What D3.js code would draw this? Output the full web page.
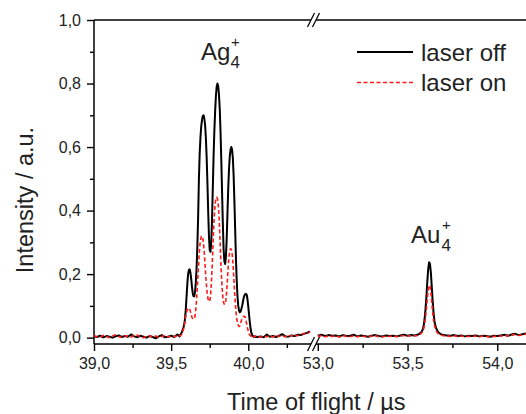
<!DOCTYPE html>
<html><head><meta charset="utf-8">
<script src="https://cdn.jsdelivr.net/npm/d3@7"></script>
<style>
body{margin:0;background:#fff}
svg{display:block}
text{font-family:"Liberation Sans",Arial,Helvetica,sans-serif}
</style>
</head><body>
<svg id="c" width="526" height="414"></svg>
<script>
// ---------------- DATA ----------------
const seriesNames = ["laser off", "laser on"];
const yTicks = [0.0, 0.2, 0.4, 0.6, 0.8, 1.0];
const yMinorTicks = [0.1, 0.3, 0.5, 0.7, 0.9];
const xTicksLeft = [39.0, 39.5, 40.0];
const xMinorLeft = [39.25, 39.75, 40.25];
const xTicksRight = [53.0, 53.5, 54.0];
const xMinorRight = [53.25, 53.75];
const peakLabels = ["Ag", "Au"];

// left segment (Ag4+), time in µs
const timeLeft = [
 39.00,39.02,39.04,39.06,39.08,39.10,39.12,39.14,39.16,39.18,
 39.20,39.22,39.24,39.26,39.28,39.30,39.32,39.34,39.36,39.38,
 39.40,39.42,39.44,39.46,39.48,39.50,39.52,39.54,
 39.550,39.555,39.560,39.565,39.570,39.575,39.580,39.585,39.590,39.595,
 39.600,39.605,39.610,39.615,39.620,39.625,39.630,39.635,39.640,39.645,
 39.650,39.655,39.660,39.665,39.670,39.675,39.680,39.685,39.690,39.695,
 39.700,39.705,39.710,39.715,39.720,39.725,39.730,39.735,39.740,39.745,
 39.750,39.755,39.760,39.765,39.770,39.775,39.780,39.785,39.790,39.795,
 39.800,39.805,39.810,39.815,39.820,39.825,39.830,39.835,39.840,39.845,
 39.850,39.855,39.860,39.865,39.870,39.875,39.880,39.885,39.890,39.895,
 39.900,39.905,39.910,39.915,39.920,39.925,39.930,39.935,39.940,39.945,
 39.950,39.955,39.960,39.965,39.970,39.975,39.980,39.985,39.990,39.995,
 40.000,40.005,40.010,40.015,40.020,40.025,40.030,40.035,40.040,40.045,
 40.050,
 40.06,40.08,40.10,40.12,40.14,40.16,40.18,40.20,40.22,40.24,
 40.26,40.28,40.30,40.32,40.34,40.36,40.38,40.40
];
const offLeft = [
 0.004,0.002,0.006,0.001,0.005,0.003,0.000,0.004,0.007,0.002,
 0.005,0.003,0.010,0.004,0.001,0.006,0.003,0.000,0.005,0.002,
 -0.002,0.004,0.008,0.001,0.003,0.006,0.002,0.010,
 0.006,0.004,0.010,0.012,0.018,0.025,0.032,0.042,0.060,0.090,
 0.130,0.170,0.200,0.213,0.215,0.205,0.185,0.160,0.140,0.130,
 0.130,0.145,0.175,0.220,0.290,0.380,0.500,0.580,0.630,0.665,
 0.685,0.698,0.700,0.690,0.670,0.630,0.570,0.490,0.400,0.320,
 0.275,0.270,0.300,0.370,0.470,0.570,0.650,0.710,0.760,0.790,
 0.800,0.792,0.765,0.720,0.650,0.560,0.460,0.360,0.280,0.240,
 0.232,0.255,0.310,0.390,0.470,0.530,0.570,0.592,0.600,0.592,
 0.565,0.510,0.430,0.340,0.250,0.180,0.130,0.100,0.085,0.080,
 0.082,0.090,0.100,0.112,0.125,0.133,0.137,0.138,0.135,0.120,
 0.098,0.072,0.048,0.028,0.015,0.008,0.005,0.003,0.004,0.002,
 0.003,
 0.002,0.004,0.001,0.010,0.003,0.005,0.002,0.006,0.011,0.004,
 0.003,0.007,0.005,0.009,0.008,0.012,0.015,0.020
];
const onLeft = [
 0.006,0.003,0.002,0.007,0.004,0.000,0.005,0.009,0.003,0.001,
 0.006,0.004,0.002,0.007,0.008,0.003,0.000,0.004,0.006,0.002,
 0.005,0.001,0.004,0.007,0.002,0.005,0.003,0.006,
 0.004,0.006,0.005,0.008,0.012,0.018,0.028,0.040,0.055,0.068,
 0.080,0.088,0.092,0.093,0.090,0.082,0.072,0.064,0.060,0.058,
 0.060,0.068,0.090,0.120,0.160,0.205,0.250,0.285,0.307,0.318,
 0.320,0.313,0.295,0.265,0.228,0.190,0.158,0.135,0.120,0.114,
 0.115,0.130,0.165,0.215,0.275,0.335,0.385,0.420,0.438,0.442,
 0.438,0.420,0.385,0.330,0.265,0.205,0.158,0.127,0.110,0.105,
 0.106,0.118,0.145,0.185,0.225,0.255,0.273,0.280,0.278,0.265,
 0.238,0.198,0.155,0.115,0.083,0.060,0.046,0.039,0.035,0.037,
 0.045,0.053,0.060,0.065,0.067,0.067,0.064,0.055,0.042,0.030,
 0.020,0.012,0.008,0.005,0.004,0.006,0.003,0.004,0.002,0.005,
 0.003,
 0.004,0.001,0.005,0.003,0.006,0.002,0.008,0.004,0.006,0.003,
 0.007,0.005,0.009,0.006,0.010,0.013,0.012,0.018
];

// right segment (Au4+)
const timeRight = [
 53.00,53.02,53.04,53.06,53.08,53.10,53.12,53.14,53.16,53.18,
 53.20,53.22,53.24,53.26,53.28,53.30,53.32,53.34,53.36,53.38,
 53.40,53.42,53.44,53.46,53.48,53.50,53.52,53.54,
 53.550,53.555,53.560,53.565,53.570,53.575,53.580,53.585,53.590,53.595,
 53.600,53.605,53.610,53.615,53.620,53.625,53.630,53.635,53.640,53.645,
 53.650,53.655,53.660,53.665,53.670,53.675,53.680,53.685,53.690,53.695,
 53.700,
 53.72,53.74,53.76,53.78,53.80,53.82,53.84,53.86,53.88,53.90,
 53.92,53.94,53.96,53.98,54.00,54.02,54.04,54.06,54.08,54.10,
 54.12,54.14,54.16
];
const offRight = [
 0.006,0.009,0.005,0.008,0.006,0.007,0.004,0.008,0.005,0.006,
 0.009,0.004,0.007,0.005,0.003,0.006,0.008,0.005,0.004,0.007,
 0.005,0.006,0.004,0.007,0.009,0.006,0.008,0.007,
 0.008,0.009,0.010,0.012,0.014,0.016,0.020,0.026,0.038,0.058,
 0.088,0.128,0.175,0.215,0.237,0.232,0.205,0.160,0.115,0.078,
 0.052,0.038,0.029,0.023,0.018,0.015,0.013,0.011,0.010,0.009,
 0.008,
 0.007,0.006,0.008,0.005,0.007,0.004,0.006,0.005,0.007,0.004,
 0.006,0.005,0.003,0.006,0.005,0.007,0.009,0.006,0.010,0.012,
 0.008,0.011,0.013
];
const onRight = [
 0.004,0.006,0.003,0.005,0.004,0.005,0.002,0.006,0.004,0.003,
 0.006,0.003,0.005,0.004,0.002,0.005,0.006,0.003,0.002,0.005,
 0.004,0.005,0.003,0.006,0.006,0.005,0.006,0.006,
 0.006,0.007,0.008,0.010,0.011,0.013,0.016,0.020,0.028,0.042,
 0.062,0.090,0.122,0.150,0.165,0.162,0.142,0.112,0.080,0.055,
 0.038,0.028,0.021,0.016,0.013,0.011,0.009,0.008,0.008,0.007,
 0.006,
 0.005,0.004,0.006,0.003,0.005,0.003,0.004,0.004,0.005,0.003,
 0.005,0.004,0.002,0.004,0.004,0.005,0.007,0.005,0.008,0.010,
 0.007,0.009,0.011
];

// ---------------- CHART ----------------
const svg = d3.select("#c");
const fmt = d => d3.format(".1f")(d).replace(".", ",");
const TXT = "#222";

const y  = d3.scaleLinear().domain([-0.02, 1.0]).range([344, 20]);
const xL = d3.scaleLinear().domain([39.0, 40.40]).range([94, 310]);
const xR = d3.scaleLinear().domain([52.99, 54.16]).range([316, 526]);

// y axis
const gy = svg.append("g").attr("transform", `translate(${xL.range()[0]},0)`);
gy.call(d3.axisLeft(y).tickValues(yTicks).tickSize(7).tickPadding(6).tickFormat(fmt));
gy.append("g").call(d3.axisLeft(y).tickValues(yMinorTicks).tickSize(4).tickFormat(""));
gy.selectAll(".domain").remove();
gy.selectAll("line").attr("stroke", "#000").attr("stroke-width", 1.4);
gy.selectAll("text").attr("font-size", 16).attr("fill", TXT);
gy.append("line").attr("x1", 0).attr("x2", 0).attr("y1", y.range()[1]).attr("y2", y.range()[0])
  .attr("stroke", "#000").attr("stroke-width", 1.5);

// x axes
function xAxis(scale, major, minor) {
  const g = svg.append("g").attr("transform", `translate(0,${y.range()[0]})`);
  g.call(d3.axisBottom(scale).tickValues(major).tickSize(7).tickPadding(7).tickFormat(fmt));
  g.append("g").call(d3.axisBottom(scale).tickValues(minor).tickSize(4).tickFormat(""));
  g.selectAll(".domain").remove();
  g.selectAll("line").attr("stroke", "#000").attr("stroke-width", 1.4);
  g.selectAll("text").attr("font-size", 16).attr("fill", TXT);
  return g;
}
xAxis(xL, xTicksLeft, xMinorLeft);
xAxis(xR, xTicksRight, xMinorRight);

// bottom and top frame lines with break
const bx1 = xL.range()[1] + 1, bx2 = xR.range()[0];
[y.range()[0], y.range()[1]].forEach(yy => {
  svg.append("line").attr("x1", xL.range()[0]).attr("x2", bx1).attr("y1", yy).attr("y2", yy)
    .attr("stroke", "#000").attr("stroke-width", 1.5);
  svg.append("line").attr("x1", bx2).attr("x2", xR.range()[1]).attr("y1", yy).attr("y2", yy)
    .attr("stroke", "#000").attr("stroke-width", 1.5);
  [bx1, bx2].forEach(bx => {
    svg.append("line").attr("x1", bx - 3.5).attr("y1", yy + 7).attr("x2", bx + 3.5).attr("y2", yy - 7)
      .attr("stroke", "#000").attr("stroke-width", 1.3);
  });
});

// data lines
function drawSeries(times, vals, scale, color, width, dash) {
  const pts = times.map((t, i) => [t, vals[i]]);
  const line = d3.line().x(d => scale(d[0])).y(d => y(d[1]));
  const p = svg.append("path").datum(pts).attr("d", line).attr("fill", "none")
    .attr("stroke", color).attr("stroke-width", width).attr("stroke-linejoin", "round");
  if (dash) p.attr("stroke-dasharray", dash);
}
drawSeries(timeLeft, offLeft, xL, "#000", 2, null);
drawSeries(timeRight, offRight, xR, "#000", 2, null);
drawSeries(timeLeft, onLeft, xL, "#ff1a1a", 1.6, "4,2.5");
drawSeries(timeRight, onRight, xR, "#ff1a1a", 1.6, "4,2.5");

// peak labels
function peakLabel(txt, x, yb) {
  svg.append("text").attr("x", x).attr("y", yb).attr("font-size", 24).attr("fill", TXT).text(txt);
  const w = txt === "Ag" ? 29.5 : 30.5;
  svg.append("text").attr("x", x + w).attr("y", yb + 8).attr("font-size", 17).attr("fill", TXT).text("4");
  svg.append("text").attr("x", x + w + 0.5).attr("y", yb - 13).attr("font-size", 15).attr("fill", TXT).text("+");
}
peakLabel(peakLabels[0], 201, 60);
peakLabel(peakLabels[1], 411, 243);

// legend
const leg = [
  {name: seriesNames[0], color: "#000", w: 2, dash: null, y: 52},
  {name: seriesNames[1], color: "#ff1a1a", w: 1.6, dash: "4,2.5", y: 82.5}
];
leg.forEach(l => {
  const ln = svg.append("line").attr("x1", 357).attr("x2", 413).attr("y1", l.y).attr("y2", l.y)
    .attr("stroke", l.color).attr("stroke-width", l.w);
  if (l.dash) ln.attr("stroke-dasharray", l.dash);
  svg.append("text").attr("x", 421).attr("y", l.y + 8.5).attr("font-size", 24).attr("fill", TXT).text(l.name);
});

// axis titles
svg.append("text").attr("transform", "translate(33,200) rotate(-90)").attr("text-anchor", "middle")
  .attr("font-size", 23.5).attr("fill", TXT).text("Intensity / a.u.");
svg.append("text").attr("x", 227).attr("y", 410).attr("font-size", 23.5).attr("fill", TXT)
  .text("Time of flight / µs");
</script>
</body></html>
